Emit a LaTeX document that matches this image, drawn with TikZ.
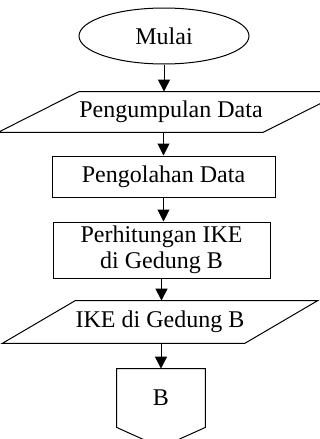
\documentclass[tikz,border=0pt]{standalone}
\usepackage{fontspec}
\setmainfont{Liberation Serif}
\usetikzlibrary{shapes.geometric,arrows.meta,calc}

\begin{document}
\begin{tikzpicture}[x=0.5pt,y=-0.5pt,
  every node/.style={font=\fontsize{12}{13}\selectfont},
  terminal/.style={draw,ellipse,line width=0.5pt,minimum width=85pt,minimum height=28pt,inner sep=0pt},
  process/.style={draw,rectangle,line width=0.5pt,align=center,inner sep=0pt},
  inout/.style={rectangle,inner sep=0pt},
  edge/.style={line width=0.5pt},
  flow/.style={line width=0.5pt,-{Triangle[width=6pt,length=6pt]}}]

%% - Picture frame
%% - --------------------------------------
\useasboundingbox (0,0) rectangle (320,439);

%% - Draw flow chart blocks
%% - --------------------------------------
\node[terminal] (mulai) at (164,36) {Mulai};
\node[inout,minimum width=82pt,minimum height=20pt] (kumpul) at (171,112) {Pengumpulan Data};
\node[process,minimum width=111.5pt,minimum height=20.5pt] (olah) at (163.5,176.5) {Pengolahan Data};
\node[process,minimum width=108.5pt,minimum height=28pt] (hitung) at (161.5,250) {Perhitungan IKE\\di Gedung B};
\node[inout,minimum width=73pt,minimum height=21pt] (ike) at (160,322) {IKE di Gedung B};

%% - Slanted data boxes
%% - --------------------------------------
\draw[edge] ($(kumpul.south west)+(-81,0)$) -- (kumpul.south east) -- ($(kumpul.north east)+(81,0)$) -- (kumpul.north west) -- cycle;
\draw[edge] ($(ike.south west)+(-73,0)$) -- (ike.south east) -- ($(ike.north east)+(73,0)$) -- (ike.north west) -- cycle;

%% - Off-page connector
%% - --------------------------------------
\node[minimum width=44pt,minimum height=29pt,inner sep=0pt] (konektor) at (161,398) {B};
\draw[edge] (konektor.south west) -- (konektor.north west) -- (konektor.north east) -- (konektor.south east) -- ($(konektor.south)+(0,20)$) -- cycle;

%% - Draw arrows
%% - --------------------------------------
\draw[flow] (mulai.south) -- (mulai.south |- kumpul.north);
\draw[flow] (olah.north |- kumpul.south) -- (olah.north);
\draw[flow] (olah.south) -- (olah.south |- hitung.north);
\draw[flow] (hitung.south) -- (hitung.south |- ike.north);
\draw[flow] (konektor.north |- ike.south) -- (konektor.north);

\end{tikzpicture}
\end{document}
